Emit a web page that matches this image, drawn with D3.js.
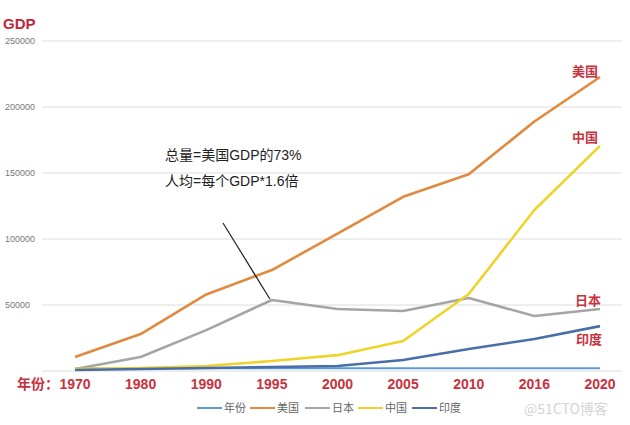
<!DOCTYPE html>
<html><head><meta charset="utf-8">
<script src="https://cdn.jsdelivr.net/npm/d3@7/dist/d3.min.js"></script>
<style>body{margin:0;background:#fff;}svg{display:block;font-family:"Noto Sans CJK SC","Noto Sans",sans-serif;}
.lat{font-family:"Liberation Sans",Arial,sans-serif;}</style>
</head><body><svg id="c" width="630" height="425"></svg>
<script>
const years = ["1970","1980","1990","1995","2000","2005","2010","2016","2020"];
const seriesNames = ["年份","美国","日本","中国","印度"];
const yearVals = [1970,1980,1990,1995,2000,2005,2010,2016,2020];
const usVals = [10600,28000,58000,76500,104000,132000,149000,189000,222700];
const jpVals = [1500,10600,31000,53800,47000,45500,55300,41700,47000];
const cnVals = [1500,2300,3800,7600,12000,22700,58300,122000,170500];
const inVals = [800,1500,2300,3000,3800,8300,16700,24200,34000];
const yTicks = [0,50000,100000,150000,200000,250000];
const colors = ["#5B9BD5","#E0893F","#A5A5A5","#EED42A","#4A6FA8"];
const annLines = ["总量=美国GDP的73%","人均=每个GDP*1.6倍"];

const allVals = [yearVals,usVals,jpVals,cnVals,inVals];
const svg = d3.select("#c");
const x = d3.scalePoint().domain(years).range([75,600]);
const y = d3.scaleLinear().domain([0,250000]).range([371,41]);

svg.append("g").selectAll("line").data(yTicks).join("line")
  .attr("x1",42).attr("x2",622).attr("y1",d=>y(d)).attr("y2",d=>y(d))
  .attr("stroke","#dcdcdc").attr("stroke-width",1);
svg.append("g").selectAll("text").data(yTicks.filter(d=>d>0)).join("text")
  .attr("x",5).attr("y",d=>y(d)+3).attr("font-size",9).attr("fill","#777")
  .attr("font-family","Liberation Sans, Arial, sans-serif").text(d=>d);

svg.append("text").attr("x",3).attr("y",29).attr("font-size",15).attr("font-weight","bold")
  .attr("fill","#C0283A").attr("font-family","Liberation Sans, Arial, sans-serif").text("GDP");

const line = d3.line().x((d,i)=>x(years[i])).y(d=>y(d));
svg.append("g").selectAll("path").data(allVals).join("path")
  .attr("d",d=>line(d)).attr("fill","none").attr("stroke",(d,i)=>colors[i])
  .attr("stroke-width",(d,i)=>i===0?2:2.6).attr("stroke-linejoin","round");

svg.append("g").selectAll("text").data(years).join("text")
  .attr("x",d=>x(d)).attr("y",389).attr("text-anchor","middle").attr("font-size",14)
  .attr("font-weight","bold").attr("fill","#C8313E")
  .attr("font-family","Liberation Sans, Arial, sans-serif").text(d=>d);
svg.append("text").attr("x",17).attr("y",389).attr("font-size",14).attr("font-weight","bold")
  .attr("fill","#C8313E").text("年份：");

const lab = [["美国",585,76],["中国",585,142],["日本",588,305],["印度",589,344]];
svg.append("g").selectAll("text").data(lab).join("text")
  .attr("x",d=>d[1]).attr("y",d=>d[2]).attr("text-anchor","middle").attr("font-size",13)
  .attr("font-weight","bold").attr("fill","#C8313E").text(d=>d[0]);

// annotation: split into CJK / Latin runs
annLines.forEach((s,li)=>{
  const runs = s.match(/[\u3000-\u9fff]+|[^\u3000-\u9fff]+/g);
  const t = svg.append("text").attr("x",165).attr("y",160+li*26).attr("font-size",14).attr("fill","#222");
  runs.forEach(r=>{
    const ts = t.append("tspan").text(r);
    if(!/[\u3000-\u9fff]/.test(r)) ts.attr("class","lat");
  });
});
svg.append("line").attr("x1",223).attr("y1",223).attr("x2",x("1995")-2).attr("y2",y(jpVals[3])-1)
  .attr("stroke","#222").attr("stroke-width",1.2);

const lx = [197,250,305,358,412];
const lg = svg.append("g").selectAll("g").data(seriesNames).join("g")
  .attr("transform",(d,i)=>`translate(${lx[i]},408)`);
lg.append("line").attr("x1",0).attr("x2",25).attr("y1",0).attr("y2",0)
  .attr("stroke",(d,i)=>colors[i]).attr("stroke-width",2);
lg.append("text").attr("x",27).attr("y",4).attr("font-size",11).attr("fill","#666").text(d=>d);

svg.append("text").attr("x",524).attr("y",414).attr("font-size",14).attr("fill","#d4d4d4").text("@51CTO博客");
</script></body></html>
